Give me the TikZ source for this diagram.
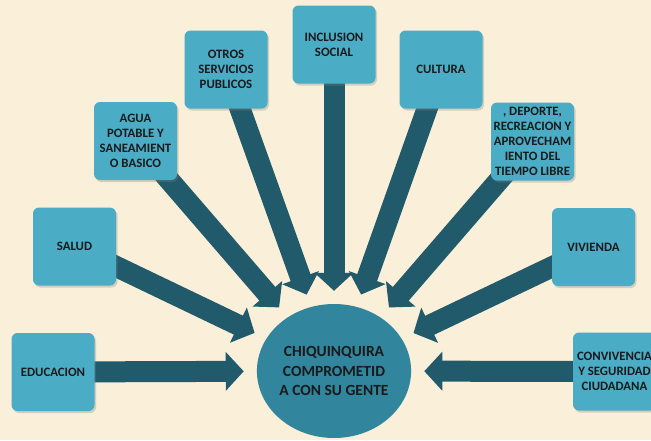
\documentclass[tikz,border=0pt]{standalone}
\usepackage{fontspec}
\setmainfont{Carlito}
\usetikzlibrary{arrows.meta,shapes.geometric,shadows,backgrounds}
\definecolor{boxblue}{HTML}{4BACC6}
\definecolor{arrowteal}{HTML}{215A6A}
\definecolor{hubteal}{HTML}{31859C}
\definecolor{paper}{HTML}{FAEFD9}
\definecolor{ink}{HTML}{1A1A1A}

\begin{document}
\begin{tikzpicture}[
    x=1pt, y=-1pt,
    topic/.style={fill=boxblue, rounded corners=6pt, minimum width=83pt, minimum height=78pt,
      inner sep=1pt, align=center, text=ink, font=\bfseries\fontsize{12.8}{15}\selectfont,
      drop shadow={shadow xshift=1.5pt, shadow yshift=-2pt, opacity=0.3}},
    hub/.style={ellipse, fill=hubteal, minimum width=154pt, minimum height=134pt, inner sep=0pt,
      align=center, text=ink, font=\bfseries\fontsize{15.5}{19.5}\selectfont},
    spoke/.style={draw=arrowteal, line width=21pt, -{Triangle[length=18pt 0 0, width=38pt 0 0]},
      shorten >=13pt}
]
\useasboundingbox (0,0) rectangle (651,440);
\clip (0,0) rectangle (651,440);

  % centre
  \node[hub] (hub) at (334,371) {CHIQUINQUIRA\\COMPROMETID\\A CON SU GENTE};

  % topics round the centre
  \node[topic] (educ) at (53,372) {EDUCACION};
  \node[topic] (salud) at (74.5,246.5) {SALUD};
  \node[topic] (agua) at (135.5,141) {AGUA\\POTABLE Y\\SANEAMIENT\\O BASICO};
  \node[topic] (otros) at (226,69.5) {OTROS\\SERVICIOS\\PUBLICOS};
  \node[topic] (incl) at (334,44.5) {INCLUSION\\SOCIAL};
  \node[topic] (cult) at (441,69.5) {CULTURA};
  \node[topic] (dep) at (532.5,141.5) {, DEPORTE,\\RECREACION Y\\APROVECHAM\\IENTO DEL\\TIEMPO LIBRE};
  \node[topic] (viv) at (593.5,247) {VIVIENDA};
  \node[topic] (conv) at (614.5,371.5) {CONVIVENCIA\\Y SEGURIDAD\\CIUDADANA};

  % paper and arrows behind the boxes
  \begin{scope}[on background layer]
    \fill[paper] (0,0) rectangle (651,440);
    \foreach \n in {educ,salud,agua,otros,incl,cult,dep,viv,conv}
      \draw[spoke] (\n.center) -- (hub);
  \end{scope}
\end{tikzpicture}
\end{document}
